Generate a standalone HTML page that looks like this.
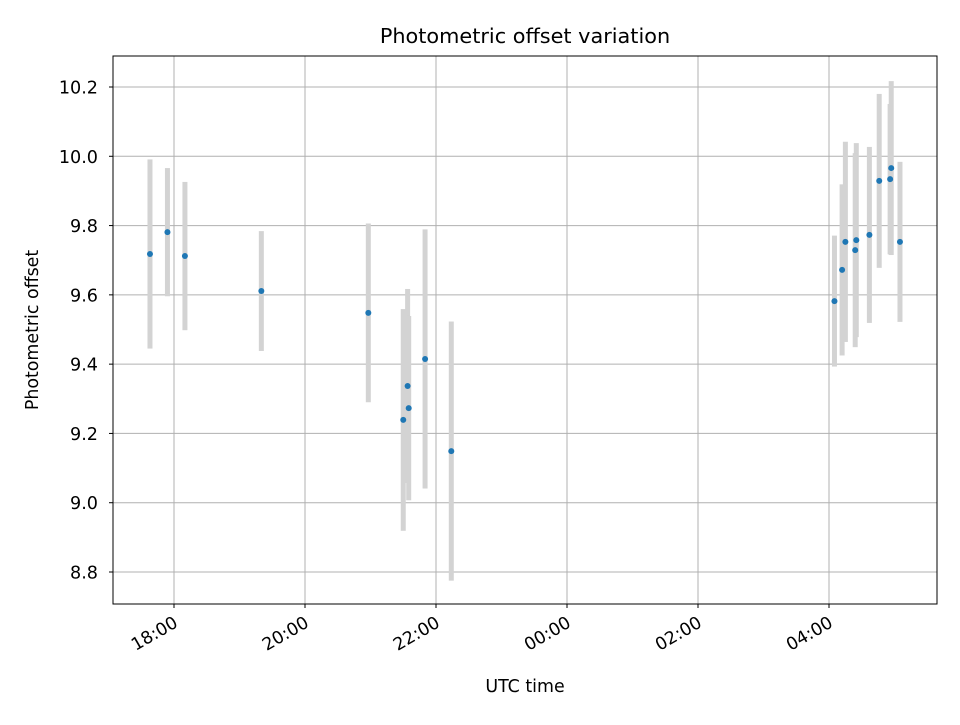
<!DOCTYPE html>
<html><head><meta charset="utf-8"><style>
body{margin:0;background:#fff;}
svg{font-family:"DejaVu Sans","Liberation Sans",sans-serif;}
</style></head><body>
<svg id="chart" width="960" height="720" viewBox="0 0 960 720" xmlns="http://www.w3.org/2000/svg">
<rect width="960" height="720" fill="#fff"/>
<text x="525" y="43" font-size="20.8" text-anchor="middle">Photometric offset variation</text>
<text x="525" y="692" font-size="17.4" text-anchor="middle">UTC time</text>
<text transform="translate(38,330) rotate(-90)" font-size="17.4" text-anchor="middle">Photometric offset</text>
<g id="grid"></g><g id="bars"></g><g id="dots"></g><g id="ticks"></g>
<rect x="113" y="56" width="824" height="548" fill="none" stroke="#000" stroke-width="1"/>
</svg>
<script>
const times = ["17:38","17:54","18:10","19:20","20:58","21:30","21:34","21:35","21:50","22:14","04:05","04:12","04:15","04:25","04:24","04:37","04:46","04:56","04:57","05:05"];
const offsets = [9.718,9.781,9.712,9.611,9.548,9.239,9.337,9.273,9.415,9.149,9.582,9.672,9.753,9.758,9.729,9.773,9.929,9.934,9.966,9.753];
const errors = [0.273,0.185,0.214,0.173,0.258,0.320,0.280,0.266,0.374,0.374,0.189,0.247,0.289,0.280,0.280,0.254,0.251,0.217,0.251,0.231];
const yTicks = [8.8,9.0,9.2,9.4,9.6,9.8,10.0,10.2];
const xTickLabels = ["18:00","20:00","22:00","00:00","02:00","04:00"];

const NS="http://www.w3.org/2000/svg";
function hoursFrom18(t){let [h,m]=t.split(":").map(Number);let v=h+m/60;if(v<12)v+=24;return v-18;}
function xs(t){return 174+hoursFrom18(t)*65.5;}
function ys(v){return 87+(10.2-v)*346.43;}
function mk(tag,attrs,parent){const e=document.createElementNS(NS,tag);for(const k in attrs)e.setAttribute(k,attrs[k]);parent.appendChild(e);return e;}
const grid=document.getElementById("grid"),bars=document.getElementById("bars"),dots=document.getElementById("dots"),ticks=document.getElementById("ticks");
yTicks.forEach(v=>{const y=ys(v);
 const g=mk("line",{x1:113,x2:937,y1:y,y2:y,stroke:"#b0b0b0","stroke-width":1},grid);
 
 
 mk("line",{x1:109,x2:113,y1:y,y2:y,stroke:"#000"},ticks);
 const t=mk("text",{x:98,y:y+6.5,"font-size":17.6,"text-anchor":"end"},ticks);t.textContent=v.toFixed(1);
 
 
});
xTickLabels.forEach(l=>{const x=xs(l);
 const g=mk("line",{x1:x,x2:x,y1:56,y2:604,stroke:"#b0b0b0","stroke-width":1},grid);
 
 
 mk("line",{x1:x,x2:x,y1:604,y2:608,stroke:"#000"},ticks);
 const t=mk("text",{transform:`translate(${x+5},${626}) rotate(-30)`,"font-size":17.4,"text-anchor":"end"},ticks);t.textContent=l;
 
 
});
times.forEach((t,i)=>{const x=xs(t);
 const b=mk("rect",{x:x-2.5,y:ys(offsets[i]+errors[i]),width:5,height:ys(offsets[i]-errors[i])-ys(offsets[i]+errors[i]),fill:"#d3d3d3"},bars);
 
 
 const c=mk("circle",{cx:x,cy:ys(offsets[i]),r:3,fill:"#1f77b4"},dots);
 
 
});
</script>
</body></html>
